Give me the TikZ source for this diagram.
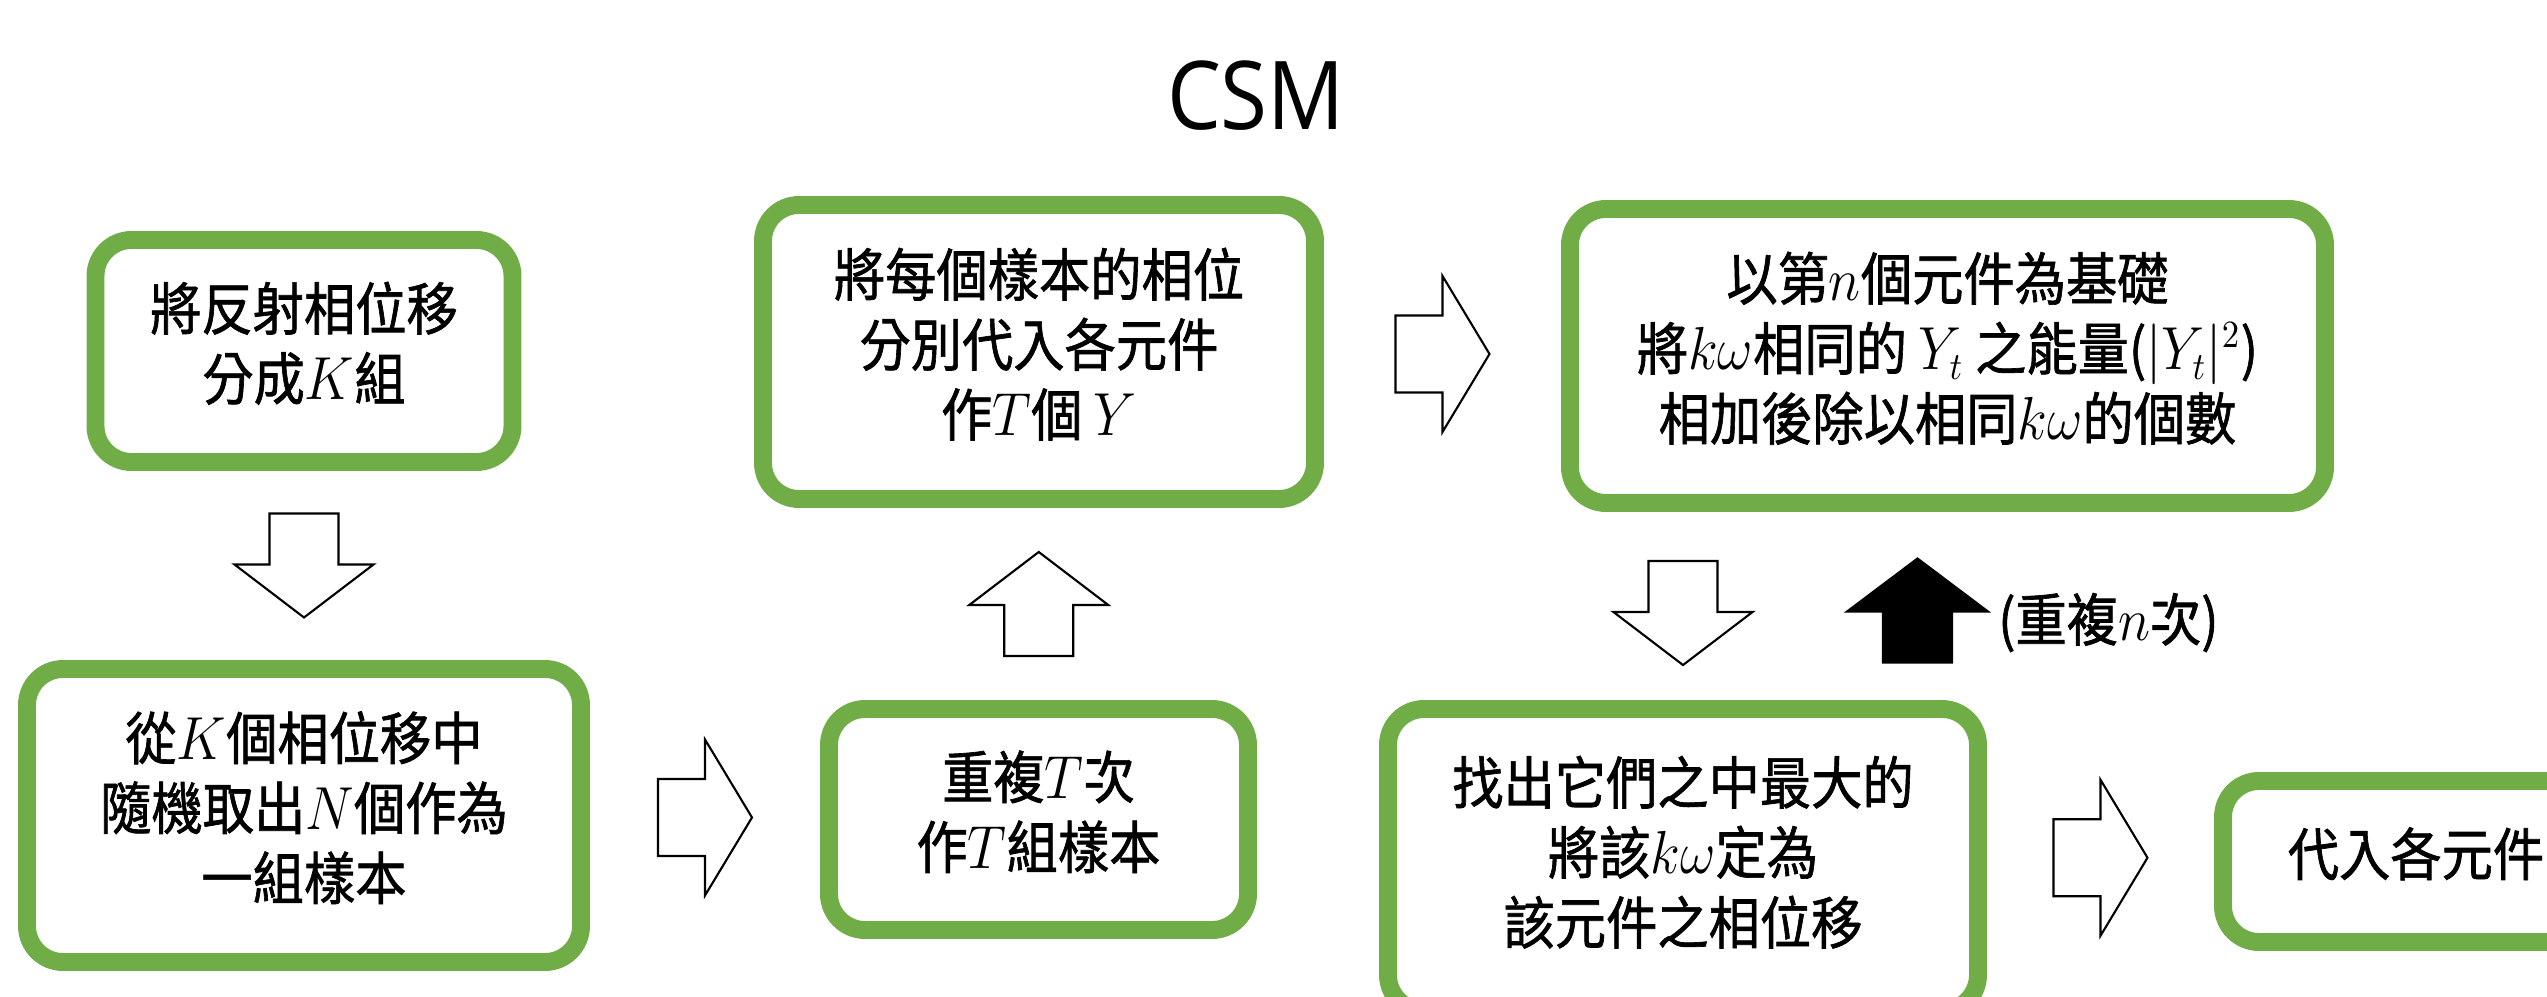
\documentclass[tikz,border=0pt]{standalone}
\usepackage{fontspec}
\usepackage{graphicx}
\setmainfont{Noto Sans CJK TC}[FakeBold=1.2]
\newfontfamily\titlefont{Open Sans}
\usetikzlibrary{calc}
\definecolor{boxgreen}{HTML}{70AD47}
\newcommand\sqz[1]{\scalebox{0.9}[1]{\begin{tabular}{@{}c@{}}#1\end{tabular}}}
\begin{document}
\begin{tikzpicture}[x=0.01cm,y=-0.01cm,
  box/.style={draw=boxgreen, line width=5.1pt, rounded corners=0.36cm, fill=white,
    inner sep=0pt, font=\fontsize{16.2}{19.9}\selectfont},
  blk/.style={draw=black, line width=0.6pt, fill=white, line join=miter},
  blkfill/.style={draw=black, line width=0.6pt, fill=black, line join=miter},
  rarrow/.pic={\draw[blk] (-47,-38.5) -- (0,-38.5) -- (0,-78) -- (47,0) -- (0,78) -- (0,38.5) -- (-47,38.5) -- cycle;},
  darrow/.pic={\draw[blk] (-34.5,-52) -- (34.5,-52) -- (34.5,-1) -- (69.5,-1) -- (0,52) -- (-69.5,-1) -- (-34.5,-1) -- cycle;},
  uarrow/.pic={\draw[blk] (-34.5,52) -- (34.5,52) -- (34.5,1) -- (69.5,1) -- (0,-52) -- (-69.5,1) -- (-34.5,1) -- cycle;},
  uarrowblack/.pic={\draw[blkfill] (-34.5,52) -- (34.5,52) -- (34.5,1) -- (70.5,1) -- (0,-52) -- (-70.5,1) -- (-34.5,1) -- cycle;},
  lbl/.style={font=\fontsize{16.2}{19.9}\selectfont, inner sep=0pt}
]
\useasboundingbox (0,0) rectangle (2547,997);
\clip (0,0) rectangle (2547,997);

\node[font=\titlefont\fontsize{27}{32}\selectfont, inner sep=0pt] (title) at (1256,96) {\scalebox{0.9}[1]{CSM}};

\node[box, minimum width=417*0.01cm, minimum height=222*0.01cm] (b1) at (304,351)
  {\sqz{將反射相位移\\分成$K$組}};
\node[box, minimum width=552*0.01cm, minimum height=294*0.01cm] (b2) at (1039,352)
  {\sqz{將每個樣本的相位\\分別代入各元件\\作$T$個 $Y$}};
\node[box, minimum width=755*0.01cm, minimum height=294*0.01cm] (b3) at (1947.5,356)
  {\sqz{以第$n$個元件為基礎\\將$k\omega$相同的 $Y_t$ 之能量($|Y_t|^2$)\\相加後除以相同$k\omega$的個數}};
\node[box, minimum width=554*0.01cm, minimum height=293*0.01cm] (b4) at (304,815.5)
  {\sqz{從$K$個相位移中\\隨機取出$N$個作為\\一組樣本}};
\node[box, minimum width=419*0.01cm, minimum height=221*0.01cm] (b5) at (1038.5,819.5)
  {\sqz{重複$T$次\\作$T$組樣本}};
\node[box, minimum width=590*0.01cm, minimum height=302*0.01cm] (b6) at (1683,860)
  {\sqz{找出它們之中最大的\\將該$k\omega$定為\\該元件之相位移}};
\node[box, minimum width=386*0.01cm, minimum height=161*0.01cm] (b7) at (2416,861.5)
  {\sqz{代入各元件}};

% block arrows between boxes
\coordinate (aD) at ($(b1.south)!.5!(b4.north)$);
\coordinate (aA) at ($(b4.east)!.5!(b5.west)$);
\coordinate (aF) at ($(b5.north)!.5!(b2.south)$);
\coordinate (aB) at ($(b2.east)!.5!(b3.west)$);
\coordinate (aE) at ($(b6.north)+(0,-87)$);
\coordinate (aG) at ($(aE)+(234.5,-2.5)$);
\coordinate (aC) at ($(b6.east)!.5!(b7.west)+(0,-3)$);

\pic at (aD) {darrow};
\pic at (aA) {rarrow};
\pic at (aF) {uarrow};
\pic at (aB) {rarrow};
\pic at (aE) {darrow};
\pic at (aG) {uarrowblack};
\pic at (aC) {rarrow};

\node[lbl, anchor=west] (rep) at ($(aG)+(80,12)$) {\scalebox{0.9}[1]{(重複$n$次)}};
\end{tikzpicture}
\end{document}
